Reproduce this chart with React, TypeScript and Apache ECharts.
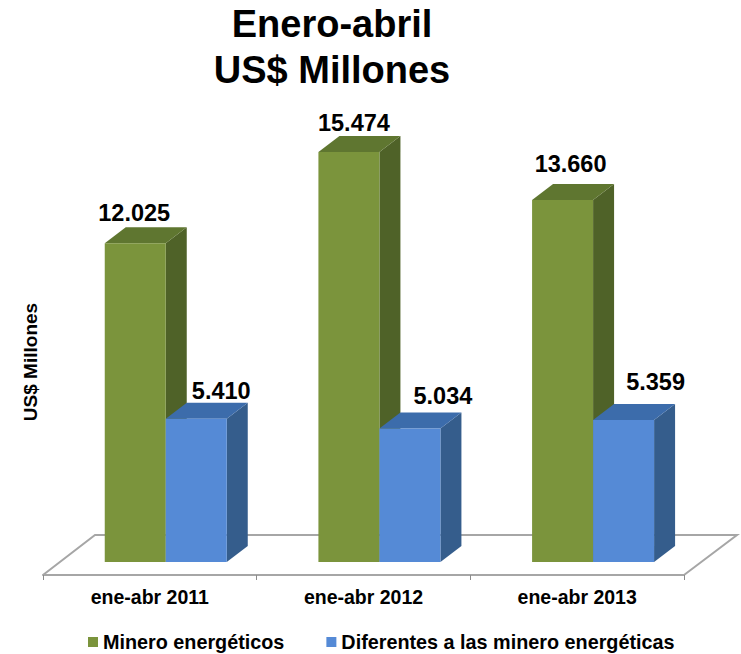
import React, { useEffect, useRef } from "react";
import * as echarts from "echarts";

const categories = ["ene-abr 2011", "ene-abr 2012", "ene-abr 2013"];
const mineroValues = [12025, 15474, 13660];
const diferentesValues = [5410, 5034, 5359];
const mineroName = "Minero energéticos";
const diferentesName = "Diferentes a las minero energéticas";
const titleText = "Enero-abril\nUS$ Millones";
const yAxisName = "US$ Millones";

// Layout only (pixels)
const DEPTH_X = 21;
const DEPTH_Y = 16;
const minerolabelNudge = [
  [-1, -14],
  [5, -13],
  [8, -20],
];
const diferentesLabelNudge = [
  [25, -12],
  [33, -17],
  [32, -22],
];

const fmt = (v: number) => String(v).replace(/\B(?=(\d{3})+$)/g, ".");

function barRenderer(
  slot: number,
  front: string,
  top: string,
  side: string,
  nudge: number[][],
) {
  return (params: any, api: any) => {
    const idx = api.value(0);
    const val = api.value(1);
    const band = api.size([1, 0])[0];
    const w = band * 0.2855;
    const center = api.coord([idx, 0])[0] + band * 0.0745;
    const x0 = center + (slot - 1) * w;
    const x1 = x0 + w;
    const yBase = api.coord([idx, 0])[1];
    const yTop = api.coord([idx, val])[1];
    const d = DEPTH_X;
    const h = DEPTH_Y;
    const [nx, ny] = nudge[params.dataIndex];
    return {
      type: "group",
      children: [
        {
          type: "polygon",
          shape: { points: [[x1, yTop], [x1 + d, yTop - h], [x1 + d, yBase - h], [x1, yBase]] },
          style: { fill: side },
        },
        {
          type: "polygon",
          shape: { points: [[x0, yTop], [x0 + d, yTop - h], [x1 + d, yTop - h], [x1, yTop]] },
          style: { fill: top },
        },
        {
          type: "rect",
          shape: { x: x0, y: yTop, width: w, height: yBase - yTop },
          style: { fill: front },
        },
        {
          type: "text",
          style: {
            text: fmt(val),
            x: (x0 + x1) / 2 + nx,
            y: yTop - h + ny,
            align: "center",
            verticalAlign: "middle",
            fill: "#000",
            font: 'bold 23.5px "Liberation Sans", Arial, sans-serif',
          },
        },
      ],
    };
  };
}

const FONT = '"Liberation Sans", Arial, sans-serif';

export default function App() {
  const ref = useRef<HTMLDivElement>(null);
  useEffect(() => {
    const chart = echarts.init(ref.current!, undefined, { renderer: "svg" });
    chart.setOption({
      animation: false,
      backgroundColor: "#fff",
      title: {
        text: titleText,
        left: 327,
        top: -4,
        textAlign: "center",
        textStyle: {
          fontFamily: FONT,
          fontWeight: "bold",
          fontSize: 38,
          lineHeight: 46,
          color: "#000",
        },
      },
      grid: { left: 43, width: 641, top: 85, height: 477 },
      xAxis: {
        type: "category",
        data: categories,
        offset: 13,
        axisLine: { onZero: false, lineStyle: { color: "#a6a6a6", width: 2 } },
        axisTick: { show: true, length: 5, lineStyle: { color: "#8c8c8c", width: 1 } },
        axisLabel: {
          margin: 12,
          color: "#000",
          fontFamily: FONT,
          fontWeight: "bold",
          fontSize: 19.5,
        },
      },
      yAxis: { type: "value", min: 0, max: 18000, show: false },
      legend: {
        left: 83,
        top: 627,
        itemWidth: 10,
        itemHeight: 10,
        itemGap: 42,
        icon: "rect",
        textStyle: {
          fontFamily: FONT,
          fontWeight: "bold",
          fontSize: 19.8,
          color: "#000",
        },
        data: [mineroName, diferentesName],
      },
      graphic: [
        {
          type: "polyline",
          z: 0,
          shape: { points: [[43, 575], [95, 535], [737, 535], [684, 575]] },
          style: { stroke: "#a6a6a6", lineWidth: 2, fill: "none" },
        },
        {
          type: "text",
          x: 30,
          y: 362,
          rotation: Math.PI / 2,
          style: {
            text: yAxisName,
            align: "center",
            verticalAlign: "middle",
            fill: "#000",
            font: `bold 19px ${FONT}`,
          },
        },
      ],
      series: [
        {
          type: "custom",
          name: mineroName,
          z: 3,
          clip: false,
          itemStyle: { color: "#7b943c" },
          encode: { x: 0, y: 1 },
          data: mineroValues.map((v, i) => [i, v]),
          renderItem: barRenderer(0, "#7b943c", "#5f7630", "#4f6228", minerolabelNudge),
        },
        {
          type: "custom",
          name: diferentesName,
          z: 4,
          clip: false,
          itemStyle: { color: "#558ad6" },
          encode: { x: 0, y: 1 },
          data: diferentesValues.map((v, i) => [i, v]),
          renderItem: barRenderer(1, "#558ad6", "#3c6cab", "#355d8c", diferentesLabelNudge),
        },
      ],
    });
    return () => chart.dispose();
  }, []);
  return (
    <div
      ref={ref}
      style={{ position: "absolute", left: 0, top: 0, width: 741, height: 654 }}
    />
  );
}
